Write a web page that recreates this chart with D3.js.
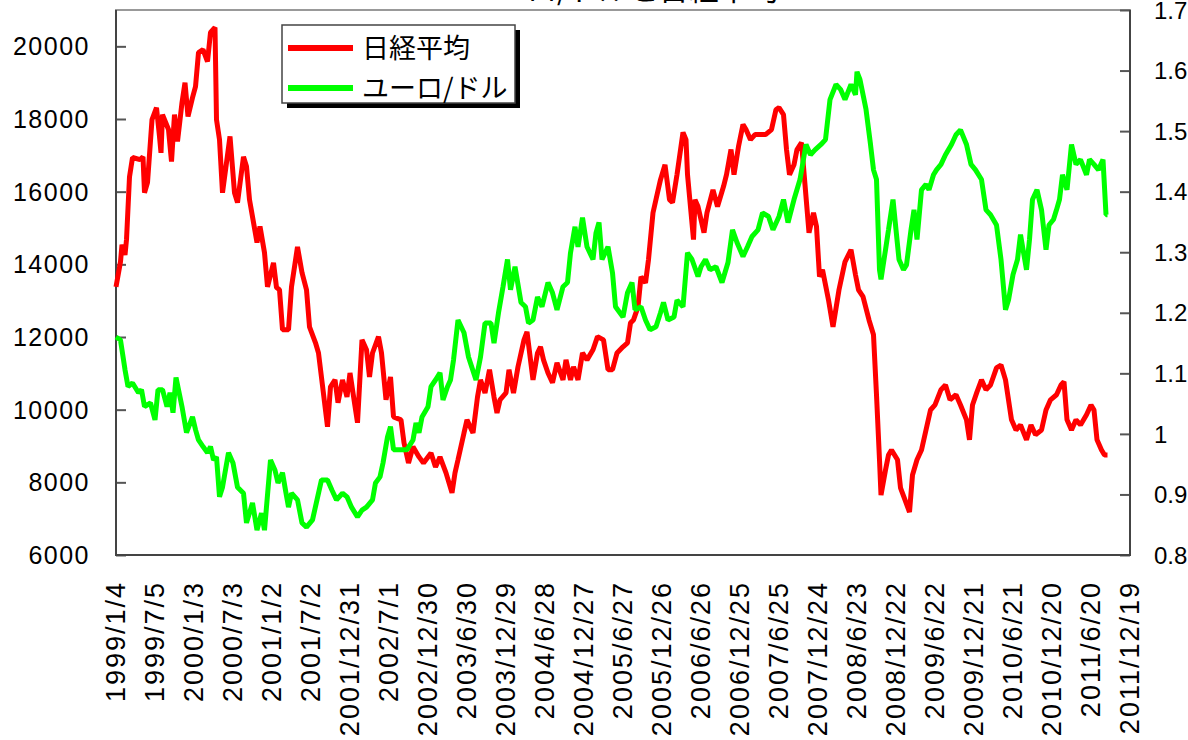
<!DOCTYPE html>
<html><head>
<meta charset="utf-8">
<script src="https://d3js.org/d3.v7.min.js"></script>
<style>
  body { margin: 0; background: #fff; }
  text { font-family: "Liberation Sans", Arial, "Noto Sans CJK JP", sans-serif; fill: #000; }
  text.jp { font-family: "Noto Sans CJK JP", sans-serif; }
</style>
</head>
<body>
<svg id="chart" width="1188" height="740"></svg>
<script>
// weekly category axis: week 0 = 1999/1/4, one label every 26 weeks
const weekLabels = ["1999/1/4","1999/7/5","2000/1/3","2000/7/3","2001/1/2","2001/7/2","2001/12/31",
  "2002/7/1","2002/12/30","2003/6/30","2003/12/29","2004/6/28","2004/12/27","2005/6/27","2005/12/26",
  "2006/6/26","2006/12/25","2007/6/25","2007/12/24","2008/6/23","2008/12/22","2009/6/22","2009/12/21",
  "2010/6/21","2010/12/20","2011/6/20","2011/12/19"];
const leftTicks = [6000, 8000, 10000, 12000, 14000, 16000, 18000, 20000];
const rightTicks = [0.8, 0.9, 1, 1.1, 1.2, 1.3, 1.4, 1.5, 1.6, 1.7];

// [week, value]
const nikkei = [[0,13380],[3,14070],[4,14540],[6,14260],[7,14680],[9,16410],[11,16940],[16,16880],[18,16960],
  [19,15970],[21,16250],[24,17980],[27,18310],[29,17520],[30,17070],[31,18120],[35,17710],[37,16830],[39,18120],
  [41,17380],[44,18450],[46,19000],[48,18070],[51,18590],[53,18890],[55,19830],[58,19910],[61,19580],[63,20380],
  [66,20520],[67,17980],[69,17430],[71,15970],[76,17520],[79,15970],[81,15700],[85,16960],[87,16690],[89,15780],
  [91,15310],[94,14600],[96,15040],[99,14320],[101,13380],[105,14040],[107,13360],[109,13300],[111,12200],
  [115,12200],[117,13380],[121,14480],[124,13770],[127,13300],[129,12280],[133,11840],[135,11560],[138,10550],
  [141,9530],[143,10630],[146,10820],[148,10190],[151,10820],[154,10350],[156,11010],[159,10190],[161,9640],
  [164,11920],[167,11650],[169,10900],[171,11560],[175,12010],[177,11560],[180,10270],[183,10900],[185,9800],
  [190,9720],[192,9090],[195,8530],[198,8980],[202,8700],[205,8530],[210,8810],[213,8420],[216,8700],[220,8260],
  [224,7710],[226,8260],[228,8620],[232,9360],[234,9720],[238,9360],[241,10350],[243,10820],[246,10460],
  [249,11100],[252,10350],[254,9910],[256,10270],[260,10460],[262,11100],[265,10460],[268,11180],[272,11920],
  [274,12140],[278,10820],[281,11560],[283,11730],[285,11370],[288,11010],[291,10740],[294,11290],[298,10820],
  [300,11370],[303,10820],[305,11180],[308,10820],[311,11560],[314,11370],[318,11650],[321,12010],[325,11920],
  [328,11100],[331,11100],[334,11560],[338,11730],[341,11840],[343,12390],[345,12470],[348,12830],[350,13660],
  [353,13490],[355,14130],[358,15420],[361,15970],[363,16330],[366,16740],[369,15780],[371,15700],[374,16470],
  [378,17630],[380,17430],[381,16470],[385,14680],[386,15780],[388,15590],[392,14870],[394,15420],[398,16050],
  [401,15590],[405,16140],[407,16470],[410,17160],[412,16470],[415,17240],[418,17850],[420,17710],[423,17430],
  [426,17570],[430,17570],[433,17570],[437,17710],[440,18260],[442,18310],[445,18120],[447,17160],[449,16470],
  [452,16740],[454,17160],[457,17350],[460,15860],[462,14870],[465,15420],[467,15040],[469,13660],[471,13850],
  [475,13020],[478,12280],[482,13300],[486,14070],[490,14400],[493,13710],[495,13300],[498,13110],[502,12470],
  [505,12060],[507,10410],[509,8620],[510,7650],[513,8340],[515,8750],[517,8890],[521,8620],[523,7850],
  [526,7520],[529,7180],[531,8200],[534,8620],[537,8890],[540,9440],[543,9990],[546,10130],[550,10550],
  [553,10680],[556,10270],[560,10410],[563,10130],[567,9720],[569,9170],[571,10130],[574,10490],[577,10820],
  [580,10550],[583,10680],[587,11150],[590,11230],[593,10820],[597,9720],[600,9440],[603,9580],[607,9170],
  [610,9580],[613,9310],[617,9440],[620,9990],[623,10270],[627,10410],[630,10680],[632,10770],[634,9720],
  [637,9440],[640,9720],[643,9580],[647,9860],[650,10130],[652,9990],[654,9170],[657,8890],[659,8750],[661,8750]];

const euroDollar = [[0,1.160],[3,1.155],[6,1.106],[8,1.078],[11,1.084],[15,1.068],[17,1.073],[19,1.045],
  [23,1.051],[26,1.023],[28,1.073],[31,1.073],[34,1.045],[36,1.068],[38,1.035],[40,1.093],[44,1.045],[47,1.002],
  [51,1.028],[53,1.007],[55,0.990],[58,0.979],[61,0.969],[63,0.979],[65,0.957],[67,0.962],[69,0.896],[71,0.912],
  [75,0.969],[78,0.952],[81,0.912],[85,0.902],[87,0.853],[91,0.886],[94,0.841],[97,0.869],[99,0.841],[103,0.957],
  [106,0.940],[108,0.919],[111,0.936],[113,0.907],[115,0.879],[117,0.902],[121,0.891],[124,0.853],[127,0.846],
  [131,0.858],[134,0.891],[137,0.924],[141,0.924],[144,0.907],[147,0.891],[151,0.902],[154,0.896],[157,0.879],
  [161,0.863],[164,0.874],[167,0.879],[171,0.891],[173,0.919],[176,0.929],[178,0.952],[181,0.995],[183,1.012],
  [185,0.974],[190,0.974],[194,0.974],[198,0.990],[200,1.018],[202,1.002],[204,1.028],[208,1.045],[210,1.078],
  [213,1.089],[216,1.101],[218,1.056],[221,1.078],[223,1.089],[225,1.122],[228,1.188],[232,1.167],[235,1.127],
  [240,1.089],[243,1.127],[246,1.183],[250,1.183],[252,1.150],[255,1.200],[258,1.243],[261,1.288],[263,1.238],
  [266,1.276],[270,1.217],[273,1.210],[275,1.183],[278,1.188],[281,1.226],[284,1.210],[288,1.250],[291,1.233],
  [294,1.205],[298,1.243],[301,1.250],[303,1.299],[306,1.342],[308,1.309],[311,1.357],[314,1.309],[318,1.288],
  [320,1.332],[322,1.349],[324,1.288],[328,1.309],[331,1.266],[333,1.210],[338,1.193],[341,1.233],[344,1.250],
  [346,1.205],[350,1.210],[353,1.188],[356,1.172],[360,1.177],[363,1.200],[365,1.217],[368,1.188],[372,1.193],
  [374,1.221],[378,1.210],[381,1.299],[384,1.288],[388,1.260],[390,1.276],[393,1.288],[396,1.271],[400,1.276],
  [404,1.250],[408,1.283],[411,1.337],[414,1.316],[418,1.293],[421,1.309],[424,1.326],[428,1.337],[431,1.365],
  [435,1.359],[438,1.337],[442,1.359],[445,1.387],[448,1.349],[452,1.387],[456,1.420],[460,1.478],[463,1.461],
  [466,1.469],[470,1.478],[473,1.486],[476,1.552],[480,1.577],[483,1.569],[486,1.552],[490,1.577],[493,1.560],
  [494,1.598],[496,1.585],[500,1.536],[503,1.478],[505,1.436],[507,1.420],[509,1.271],[510,1.255],[513,1.304],
  [515,1.337],[518,1.387],[520,1.337],[522,1.288],[525,1.271],[527,1.279],[530,1.337],[532,1.370],[534,1.321],
  [537,1.403],[540,1.412],[542,1.403],[545,1.428],[547,1.436],[550,1.445],[553,1.461],[557,1.478],[560,1.494],
  [563,1.502],[567,1.478],[570,1.445],[573,1.436],[577,1.420],[580,1.370],[583,1.362],[587,1.345],[590,1.288],
  [593,1.205],[595,1.221],[598,1.263],[601,1.288],[603,1.329],[607,1.271],[609,1.321],[611,1.387],[614,1.403],
  [617,1.370],[620,1.304],[622,1.345],[625,1.354],[627,1.370],[629,1.387],[631,1.428],[634,1.403],[637,1.478],
  [640,1.445],[643,1.453],[647,1.428],[649,1.453],[652,1.445],[655,1.436],[658,1.453],[660,1.362],[661,1.362]];

const svg = d3.select("#chart");
const plotLeft = 116, plotRight = 1130, plotTop = 10, plotBottom = 555;

const x = d3.scaleLinear().domain([0, 676]).range([plotLeft, plotRight]);
const yL = d3.scaleLinear().domain([6000, 21000]).range([plotBottom, plotTop]);
const yR = d3.scaleLinear().domain([0.8, 1.7]).range([plotBottom, plotTop]);

// title (only its lowest edge shows at the top of the picture)
svg.append("text").attr("class", "jp")
   .attr("x", 623).attr("y", 0)
   .attr("text-anchor", "middle")
   .attr("fill", "#555")
   .style("font-size", "30px")
   .text("ユーロ/ドルと日経平均");

// plot frame
svg.append("rect")
   .attr("x", plotLeft).attr("y", plotTop)
   .attr("width", plotRight - plotLeft).attr("height", plotBottom - plotTop)
   .attr("fill", "#fff").attr("stroke", "#999").attr("stroke-width", 2);

// left axis
const axL = svg.append("g").attr("transform", "translate(" + plotLeft + ",0)")
   .call(d3.axisRight(yL).tickValues(leftTicks).tickSize(10).tickFormat(""));
axL.select(".domain").remove();
axL.selectAll("line").attr("stroke", "#555").attr("stroke-width", 2);
svg.selectAll("text.yl").data(leftTicks).join("text")
   .attr("class", "yl")
   .attr("x", 90).attr("y", d => yL(d))
   .attr("dy", "0.36em").attr("text-anchor", "end")
   .style("font-size", "25px").style("letter-spacing", "1.5px")
   .text(d => d);

// right axis
const axR = svg.append("g").attr("transform", "translate(" + plotRight + ",0)")
   .call(d3.axisLeft(yR).tickValues(rightTicks).tickSize(10).tickFormat(""));
axR.select(".domain").remove();
axR.selectAll("line").attr("stroke", "#555").attr("stroke-width", 2);
svg.selectAll("text.yr").data(rightTicks).join("text")
   .attr("class", "yr")
   .attr("x", 1154).attr("y", d => yR(d))
   .attr("dy", "0.36em")
   .style("font-size", "24px")
   .text(d => d3.format("~g")(d));

// axis lines (left, right, bottom)
svg.append("path")
   .attr("d", "M" + plotLeft + "," + plotTop + "V" + plotBottom + "H" + plotRight + "V" + plotTop)
   .attr("fill", "none").attr("stroke", "#444").attr("stroke-width", 2);

// x labels, rotated
svg.selectAll("text.xl").data(weekLabels).join("text")
   .attr("class", "xl")
   .attr("transform", (d, i) => "translate(" + x(i * 26) + ",581) rotate(-90)")
   .attr("text-anchor", "end")
   .attr("dominant-baseline", "central")
   .style("font-size", "27px").style("letter-spacing", "2px")
   .text(d => d);

// series
const lineL = d3.line().x(d => x(d[0])).y(d => yL(d[1]));
const lineR = d3.line().x(d => x(d[0])).y(d => yR(d[1]));

svg.append("path").datum(nikkei)
   .attr("d", lineL)
   .attr("fill", "none").attr("stroke", "#ff0000")
   .attr("stroke-width", 5).attr("stroke-linejoin", "bevel");

svg.append("path").datum(euroDollar)
   .attr("d", lineR)
   .attr("fill", "none").attr("stroke", "#00ff00")
   .attr("stroke-width", 5).attr("stroke-linejoin", "bevel");

// legend
const legend = svg.append("g");
legend.append("rect").attr("x", 287).attr("y", 30).attr("width", 233).attr("height", 78).attr("fill", "#000");
legend.append("rect").attr("x", 282).attr("y", 25).attr("width", 233).attr("height", 78)
      .attr("fill", "#fff").attr("stroke", "#444").attr("stroke-width", 1.5);
const legendItems = [["日経平均", "#ff0000"], ["ユーロ/ドル", "#00ff00"]];
legendItems.forEach((d, i) => {
  const cy = 48 + i * 40;
  legend.append("line").attr("x1", 288).attr("x2", 353).attr("y1", cy).attr("y2", cy)
        .attr("stroke", d[1]).attr("stroke-width", 6);
  legend.append("text").attr("class", "jp")
        .attr("x", 362).attr("y", cy).attr("dy", "0.36em")
        .style("font-size", "27px")
        .text(d[0]);
});
</script>
</body>
</html>
